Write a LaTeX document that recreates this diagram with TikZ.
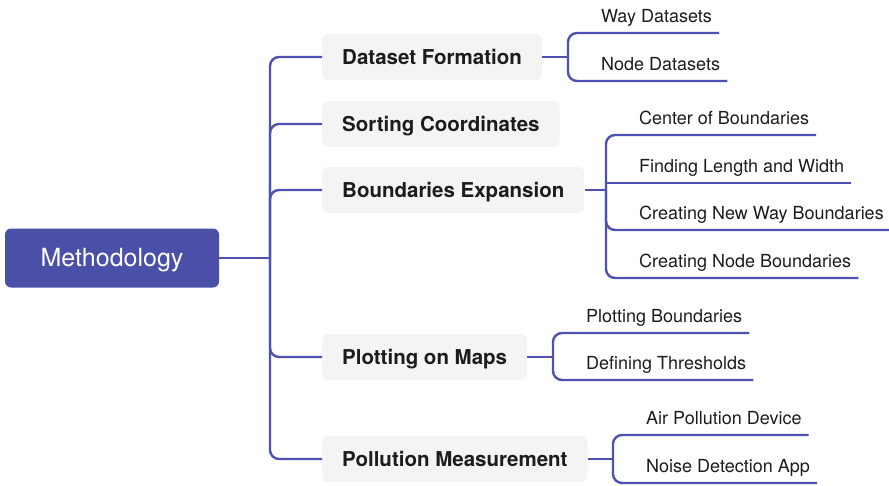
\documentclass[tikz,border=0pt]{standalone}
\usepackage{fontspec}
\setmainfont{TeX Gyre Heros}

\definecolor{mapblue}{HTML}{4A4FA8}
\definecolor{maplink}{HTML}{4C51B2}
\definecolor{topicgray}{HTML}{F4F4F4}
\definecolor{inkdark}{HTML}{1C1C1C}

\begin{document}
\begin{tikzpicture}[x = 1pt, y = -1pt, line join = round]
    \tikzset{
      root/.style = {fill = mapblue, text = white, rounded corners = 6pt, minimum width = 214pt, minimum height = 59pt, text depth = 1pt, font = \fontsize{25}{30}\selectfont},
      topic/.style = {fill = topicgray, text = inkdark, anchor = west, rounded corners = 6pt, inner xsep = 20pt, minimum height = 46pt, text depth = 0.5pt, font = \fontsize{20.5}{24}\selectfont\bfseries},
      leaf/.style = {anchor = south west, inner xsep = 7pt, inner ysep = 0pt, text depth = 10pt, text = inkdark, font = \fontsize{18}{22}\selectfont},
      link/.style = {draw = maplink, line width = 2.4pt, rounded corners = 9pt},
    }

    \useasboundingbox (0, 0) rectangle (889, 485);

    \node [root] (method) at (112, 258) {Methodology};
    \coordinate (hub) at (270, 258);

    \node [topic] (dataset) at (322, 57) {Dataset Formation};
    \node [topic] (sorting) at (322, 124) {Sorting Coordinates};
    \node [topic] (bounds) at (322, 190) {Boundaries Expansion};
    \node [topic] (plotting) at (322, 357) {Plotting on Maps};
    \node [topic] (pollution) at (322, 459) {Pollution Measurement};

    \draw [link] (method.east) -- (hub);
    \draw [link] (hub) |- (dataset.west);
    \draw [link] (hub) |- (sorting.west);
    \draw [link] (hub) |- (bounds.west);
    \draw [link] (hub) |- (plotting.west);
    \draw [link] (hub) |- (pollution.west);

    % second level, underlined items
    \coordinate (datasetj) at (568, 57);
    \coordinate (boundsj) at (606, 190);
    \coordinate (plottingj) at (553, 357);
    \coordinate (pollutionj) at (613, 459);

    \node [leaf] (way) at (594, 33) {Way Datasets};
    \node [leaf] (nodeds) at (594, 81) {Node Datasets};

    \node [leaf] (center) at (632, 135) {Center of Boundaries};
    \node [leaf] (length) at (632, 183) {Finding Length and Width};
    \node [leaf] (newway) at (632, 230) {Creating New Way Boundaries};
    \node [leaf] (newnode) at (632, 278) {Creating Node Boundaries};

    \node [leaf] (plotb) at (579, 333) {Plotting Boundaries};
    \node [leaf] (thresh) at (579, 380) {Defining Thresholds};

    \node [leaf] (air) at (639, 435) {Air Pollution Device};
    \node [leaf] (noise) at (639, 483) {Noise Detection App};

    \draw [link] (dataset.east) -- (datasetj);
    \draw [link] (datasetj) |- (way.south east);
    \draw [link] (datasetj) |- (nodeds.south east);

    \draw [link] (bounds.east) -- (boundsj);
    \draw [link] (boundsj) |- (center.south east);
    \draw [link, sharp corners] (boundsj) |- (length.south east);
    \draw [link] (boundsj) |- (newway.south east);
    \draw [link] (boundsj) |- (newnode.south east);

    \draw [link] (plotting.east) -- (plottingj);
    \draw [link] (plottingj) |- (plotb.south east);
    \draw [link] (plottingj) |- (thresh.south east);

    \draw [link] (pollution.east) -- (pollutionj);
    \draw [link] (pollutionj) |- (air.south east);
    \draw [link] (pollutionj) |- (noise.south east);
\end{tikzpicture}
\end{document}
